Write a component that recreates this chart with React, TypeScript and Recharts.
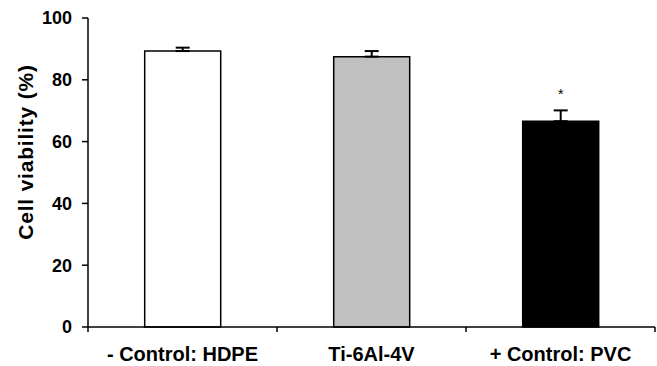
import { BarChart, Bar, XAxis, YAxis, Cell, ErrorBar, LabelList, Label } from "recharts"

const groups = ["- Control: HDPE", "Ti-6Al-4V", "+ Control: PVC"]
const viability = [89.3, 87.5, 66.6]
const sdUpper = [1.1, 1.8, 3.5]
const marks = ["", "", "*"]
const fills = ["#ffffff", "#c0c0c0", "#000000"]
const yTicks = [0, 20, 40, 60, 80, 100]
const boundaries = [0, 1, 2, 3]

const data = groups.map((name, i) => ({
    name,
    idx: i + 0.5,
    value: viability[i],
    err: [0, sdUpper[i]],
    sig: marks[i]
}))

const font = "'Liberation Sans', Arial, sans-serif"

export default function App() {
    return (
        <div style={{ width: 657, height: 366, background: "#fff" }}>
            <style>{"body{margin:0}"}</style>
            <BarChart
                width={657}
                height={366}
                data={data}
                margin={{ top: 18, right: 2, bottom: 0, left: 0 }}
                barCategoryGap="30%"
            >
                {/* ticks between the groups, sits right under the bars */}
                <XAxis
                    xAxisId="a"
                    type="number"
                    dataKey="idx"
                    domain={[0, 3]}
                    ticks={boundaries}
                    allowDataOverflow
                    height={1}
                    tick={() => null}
                    axisLine={{ stroke: "#000", strokeWidth: 1.5 }}
                    tickLine={{ stroke: "#000", strokeWidth: 1.5 }}
                    tickSize={5}
                />
                <XAxis
                    xAxisId="b"
                    dataKey="name"
                    height={38}
                    axisLine={false}
                    tickLine={false}
                    tickSize={0}
                    tickMargin={19}
                    tick={{ fill: "#000", fontSize: 20, fontWeight: "bold", fontFamily: font }}
                />
                <YAxis
                    width={88}
                    domain={[0, 100]}
                    ticks={yTicks}
                    axisLine={{ stroke: "#000", strokeWidth: 1.5 }}
                    tickLine={{ stroke: "#000", strokeWidth: 1.5 }}
                    tickSize={6}
                    tickMargin={10}
                    tick={{ fill: "#000", fontSize: 18, fontWeight: "bold", fontFamily: font }}
                >
                    <Label
                        content={() => (
                            <text
                                x={25}
                                y={152}
                                transform="rotate(-90, 25, 152)"
                                textAnchor="middle"
                                dominantBaseline="central"
                                fontSize={21}
                                fontWeight="bold"
                                fontFamily={font}
                                letterSpacing={0.8}
                                fill="#000"
                            >
                                Cell viability (%)
                            </text>
                        )}
                    />
                </YAxis>
                <Bar xAxisId="b" dataKey="value" stroke="#000" strokeWidth={1.5} isAnimationActive={false}>
                    {data.map((d, i) => (
                        <Cell key={d.name} fill={fills[i]} />
                    ))}
                    <ErrorBar dataKey="err" width={7} stroke="#000" strokeWidth={2} direction="y" />
                    <LabelList
                        dataKey="sig"
                        position="top"
                        offset={22}
                        fill="#000"
                        fontSize={14}
                        fontFamily={font}
                    />
                </Bar>
            </BarChart>
        </div>
    )
}
